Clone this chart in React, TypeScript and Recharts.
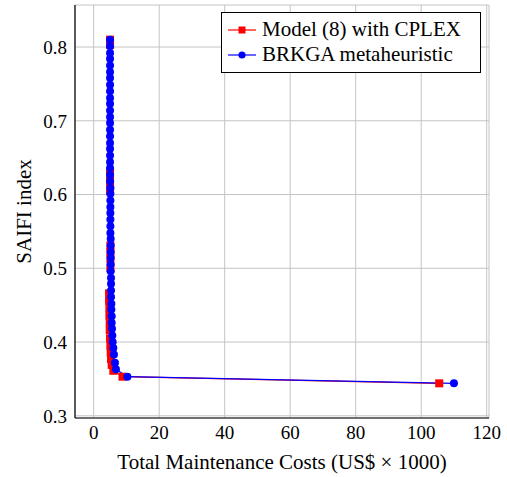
import React from 'react';
import { ComposedChart, Line, XAxis, YAxis, CartesianGrid } from 'recharts';

const FONT = '"Liberation Serif", "Times New Roman", serif';

// Model (8) solved with CPLEX
const cplexCost = [5.0, 5.0, 5.0, 5.0, 5.0, 5.0, 5.1, 5.1, 5.1, 5.1, 4.7, 4.7, 4.8, 4.8, 4.9, 4.9, 5.0, 5.1, 5.2, 5.3, 5.5, 6.0, 8.8, 105.5];
const cplexSaifi = [0.810, 0.803, 0.630, 0.621, 0.612, 0.605, 0.531, 0.522, 0.512, 0.500, 0.466, 0.456, 0.446, 0.436, 0.426, 0.416, 0.405, 0.395, 0.386, 0.377, 0.369, 0.361, 0.353, 0.344];

// BRKGA metaheuristic
const brkgaCost = [
  5.0, 5.0, 5.0, 5.0, 5.0, 5.0, 5.0, 5.0, 5.0, 5.0,
  5.0, 5.0, 5.0, 5.0, 5.0, 5.0, 5.0, 5.0, 5.0, 5.0,
  5.0, 5.0, 5.0, 5.1, 5.1, 5.1, 5.1, 5.1, 5.1, 5.1,
  5.1, 5.2, 5.2, 5.2, 5.2, 5.2, 5.2, 5.3, 5.3, 5.3,
  5.3, 5.4, 5.4, 5.5, 5.5, 5.6, 5.7, 5.8, 6.0, 6.2,
  6.5, 6.8, 10.3, 110.0,
];
const brkgaSaifi = [
  0.810, 0.801, 0.792, 0.784, 0.775, 0.766, 0.758, 0.749, 0.740, 0.731,
  0.723, 0.714, 0.705, 0.697, 0.688, 0.679, 0.670, 0.662, 0.653, 0.644,
  0.636, 0.627, 0.618, 0.609, 0.601, 0.592, 0.583, 0.575, 0.566, 0.557,
  0.548, 0.540, 0.531, 0.522, 0.514, 0.505, 0.496, 0.487, 0.479, 0.470,
  0.461, 0.452, 0.444, 0.435, 0.426, 0.418, 0.409, 0.400, 0.392, 0.383,
  0.372, 0.363, 0.353, 0.344,
];

const xTicks = [0, 20, 40, 60, 80, 100, 120];
const yTicks = [0.3, 0.4, 0.5, 0.6, 0.7, 0.8];

const cplexData = cplexCost.map((x, i) => ({ x, y: cplexSaifi[i] }));
const brkgaData = brkgaCost.map((x, i) => ({ x, y: brkgaSaifi[i] }));

const SquareDot = (props: any) => {
  const { cx, cy, index } = props;
  return <rect key={'sq' + index} x={cx - 4} y={cy - 4} width={8} height={8} fill="#ff0000" />;
};

const CircleDot = (props: any) => {
  const { cx, cy, index } = props;
  return <circle key={'ci' + index} cx={cx} cy={cy} r={4} fill="#0000ff" />;
};

const legendItems = [
  { name: 'Model (8) with CPLEX', color: '#ff0000', square: true },
  { name: 'BRKGA metaheuristic', color: '#0000ff', square: false },
];

const LegendBox = () => (
  <div
    style={{
      position: 'absolute',
      left: 221,
      top: 12,
      width: 258,
      padding: '4px 0 5px 0',
      border: '1px solid #000',
      background: '#fff',
      fontFamily: FONT,
      fontSize: 21,
      lineHeight: '25px',
      color: '#000',
    }}
  >
    {legendItems.map((it) => (
      <div key={it.name} style={{ display: 'flex', alignItems: 'center', paddingLeft: 6 }}>
        <svg width={28} height={12} style={{ marginRight: 6 }}>
          <line x1={0} y1={6} x2={28} y2={6} stroke={it.color} strokeWidth={1.2} />
          {it.square ? (
            <rect x={10.5} y={2.5} width={7} height={7} fill={it.color} />
          ) : (
            <circle cx={14} cy={6} r={3.6} fill={it.color} />
          )}
        </svg>
        <span>{it.name}</span>
      </div>
    ))}
  </div>
);

const App: React.FC = () => {
  return (
    <div style={{ position: 'absolute', left: 0, top: 0, width: 507, height: 477, background: '#fff' }}>
      <ComposedChart
        width={507}
        height={477}
        margin={{ top: 5, right: 18, left: 0, bottom: 0 }}
        style={{ fontFamily: FONT }}
      >
        <CartesianGrid stroke="#c4c4c4" strokeWidth={1} />
        <XAxis
          type="number"
          dataKey="x"
          domain={[-5.7, 120.7]}
          ticks={xTicks}
          allowDataOverflow
          height={59}
          axisLine={{ stroke: '#000', strokeWidth: 1.2 }}
          tickLine={false}
          tick={{ fill: '#000', fontSize: 19, fontFamily: FONT }}
          label={{
            content: (p: any) => {
              const vb = p.viewBox;
              return (
                <text x={vb.x + vb.width / 2} y={469} textAnchor="middle" fontSize={21} fontFamily={FONT} fill="#000">
                  Total Maintenance Costs (US$ × 1000)
                </text>
              );
            },
          }}
        />
        <YAxis
          type="number"
          dataKey="y"
          domain={[0.297, 0.857]}
          ticks={yTicks}
          allowDataOverflow
          width={75}
          axisLine={{ stroke: '#000', strokeWidth: 1.2 }}
          tickLine={false}
          tickFormatter={(v: number) => v.toFixed(1)}
          tick={{ fill: '#000', fontSize: 19, fontFamily: FONT }}
          label={{
            content: (p: any) => {
              const vb = p.viewBox;
              const cy = vb.y + vb.height / 2;
              return (
                <text
                  x={31}
                  y={cy}
                  transform={`rotate(-90, 31, ${cy})`}
                  textAnchor="middle"
                  fontSize={21}
                  fontFamily={FONT}
                  fill="#000"
                >
                  SAIFI index
                </text>
              );
            },
          }}
        />
        <Line
          data={cplexData}
          dataKey="y"
          name="Model (8) with CPLEX"
          stroke="#ff0000"
          strokeWidth={1.2}
          dot={SquareDot}
          activeDot={false}
          isAnimationActive={false}
        />
        <Line
          data={brkgaData}
          dataKey="y"
          name="BRKGA metaheuristic"
          stroke="#0000ff"
          strokeWidth={1.2}
          dot={CircleDot}
          activeDot={false}
          isAnimationActive={false}
        />
      </ComposedChart>
      <LegendBox />
    </div>
  );
};

export default App;
